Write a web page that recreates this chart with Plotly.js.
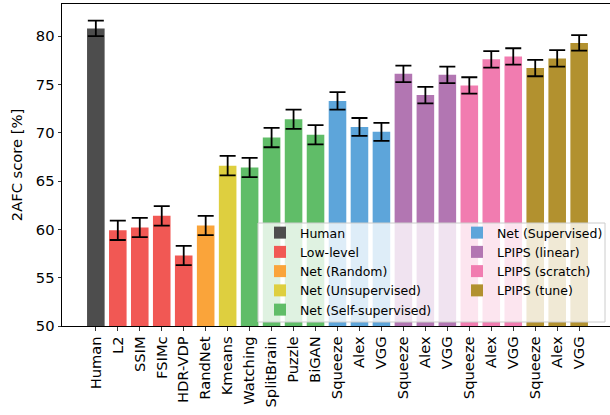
<!DOCTYPE html>
<html>
<head>
<meta charset="utf-8">
<script src="https://cdn.plot.ly/plotly-3.0.1.min.js"></script>
<style>
  html, body { margin: 0; padding: 0; overflow: hidden; background: #fff; }
  #chart { width: 616px; height: 415px; }
</style>
</head>
<body>
<div id="chart"></div>
<script>
// ---- data ----
const labels = ['Human','L2','SSIM','FSIMc','HDR-VDP','RandNet','Kmeans','Watching','SplitBrain','Puzzle','BiGAN',
                'Squeeze','Alex','VGG','Squeeze','Alex','VGG','Squeeze','Alex','VGG','Squeeze','Alex','VGG'];
const scores = [80.8, 59.9, 60.2, 61.4, 57.3, 60.4, 66.6, 66.4, 69.5, 71.4, 69.8,
                73.3, 70.6, 70.1, 76.1, 73.9, 76.0, 74.9, 77.6, 77.9, 76.7, 77.7, 79.3];
const errors = [0.8, 1.0, 1.0, 1.0, 1.0, 1.0, 1.0, 1.0, 1.0, 1.0, 1.0,
                0.9, 0.93, 0.93, 0.85, 0.85, 0.85, 0.85, 0.85, 0.85, 0.85, 0.85, 0.8];
const barGroup = ['Human','Low-level','Low-level','Low-level','Low-level','Net (Random)',
                  'Net (Unsupervised)','Net (Self-supervised)','Net (Self-supervised)','Net (Self-supervised)','Net (Self-supervised)',
                  'Net (Supervised)','Net (Supervised)','Net (Supervised)',
                  'LPIPS (linear)','LPIPS (linear)','LPIPS (linear)',
                  'LPIPS (scratch)','LPIPS (scratch)','LPIPS (scratch)',
                  'LPIPS (tune)','LPIPS (tune)','LPIPS (tune)'];
const groups = ['Human','Low-level','Net (Random)','Net (Unsupervised)','Net (Self-supervised)',
                'Net (Supervised)','LPIPS (linear)','LPIPS (scratch)','LPIPS (tune)'];
const groupColors = ['#4d4d4d','#f15854','#faa43a','#decf3f','#60bd68',
                     '#5da5da','#b276b2','#f17cb0','#b2912f'];

// ---- build traces ----
const positions = labels.map((_, i) => i);
const traces = groups.map((g, gi) => {
  const idx = positions.filter(i => barGroup[i] === g);
  return {
    type: 'bar',
    name: g,
    x: idx,
    y: idx.map(i => scores[i]),
    width: 0.8,
    marker: { color: groupColors[gi], line: { width: 0 } },
    error_y: { type: 'data', array: idx.map(i => errors[i]), visible: true,
               color: '#000', thickness: 1.8, width: 8 },
    legend: gi < 5 ? 'legend' : 'legend2',
    legendgroup: g,
    hoverinfo: 'x+y'
  };
});

const W = 616, H = 415, ML = 62, MR = 3, MT = 4, MB = 89;
const PW = W - ML - MR, PH = H - MT - MB;
const px = v => (v - ML) / PW;
const py = v => (H - MB - v) / PH;

const legendFont = { family: 'DejaVu Sans', size: 12.5, color: '#000' };
const axisFont = { family: 'DejaVu Sans', size: 14.7, color: '#000' };

const layout = {
  width: W, height: H,
  margin: { l: ML, r: MR, t: MT, b: MB, pad: 0 },
  paper_bgcolor: '#fff', plot_bgcolor: '#fff',
  barmode: 'overlay',
  showlegend: true,
  font: { family: 'DejaVu Sans', color: '#000' },
  xaxis: {
    range: [-1.54, labels.length - 1 + 1.54],
    tickmode: 'array', tickvals: positions, ticktext: labels,
    tickangle: -90,
    ticks: 'outside', ticklen: 3.5, tickwidth: 0.8, tickcolor: '#000',
    tickfont: axisFont,
    showline: true, linecolor: '#000', linewidth: 1, mirror: true,
    showgrid: false, zeroline: false, automargin: false, fixedrange: true
  },
  yaxis: {
    range: [50, 83.33],
    tickmode: 'array', tickvals: [50, 55, 60, 65, 70, 75, 80],
    ticks: 'outside', ticklen: 3.5, tickwidth: 0.8, tickcolor: '#000',
    tickfont: axisFont,
    showline: true, linecolor: '#000', linewidth: 1, mirror: true,
    showgrid: false, zeroline: false, automargin: false, fixedrange: true,
    title: { text: '2AFC score [%]', font: axisFont, standoff: 9 }
  },
  legend: {
    x: px(260), y: py(218), xanchor: 'left', yanchor: 'top',
    bgcolor: 'rgba(0,0,0,0)', borderwidth: 0,
    font: legendFont, tracegroupgap: 1, traceorder: 'normal'
  },
  legend2: {
    x: px(457), y: py(218), xanchor: 'left', yanchor: 'top',
    bgcolor: 'rgba(0,0,0,0)', borderwidth: 0,
    font: legendFont, tracegroupgap: 1, traceorder: 'normal'
  },
  shapes: [{
    type: 'rect', xref: 'paper', yref: 'paper', layer: 'above',
    x0: px(258), x1: px(605), y0: py(322), y1: py(223),
    fillcolor: 'rgba(255,255,255,0.8)',
    line: { color: '#cccccc', width: 1 }
  }]
};

Plotly.newPlot('chart', traces, layout, { staticPlot: true, displayModeBar: false });
</script>
</body>
</html>
